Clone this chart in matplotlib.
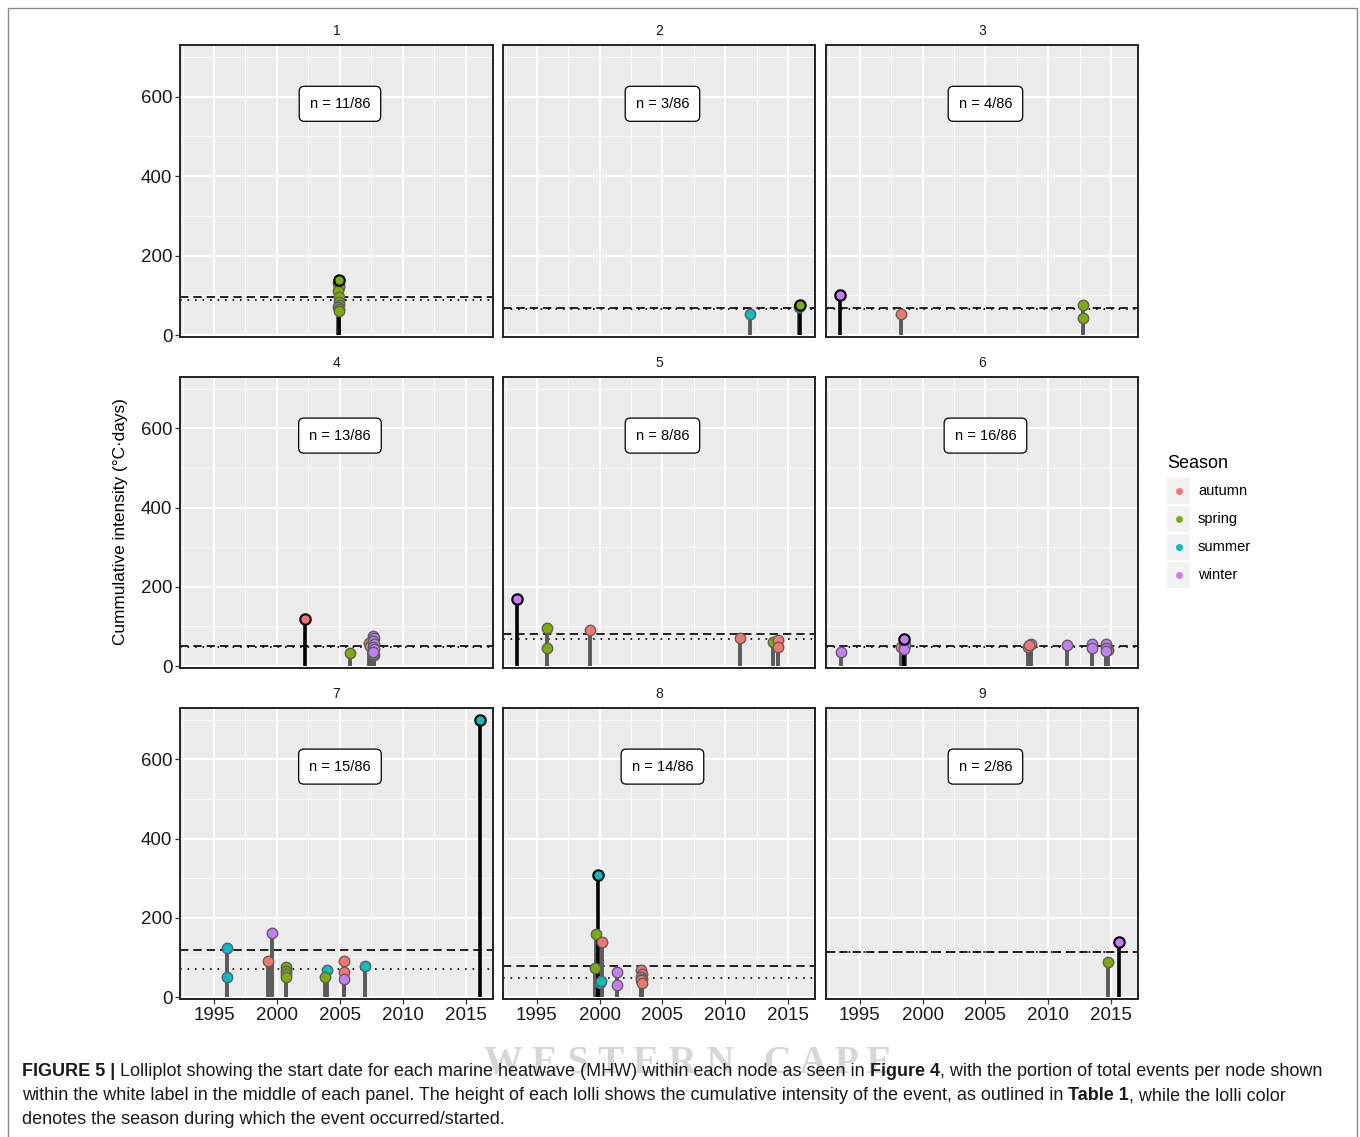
import matplotlib
matplotlib.use("Agg")
import matplotlib.pyplot as plt
from matplotlib.patches import Rectangle
from matplotlib.ticker import MultipleLocator

plt.rcParams['font.family'] = ['Liberation Sans', 'DejaVu Sans']

# ---- data (one list per node) ----
nodes = [1, 2, 3, 4, 5, 6, 7, 8, 9]
n_events = [11, 3, 4, 13, 8, 16, 15, 14, 2]
total_events = 86

years = [
    [2004.9, 2004.85, 2004.9, 2004.95, 2004.85, 2004.9, 2004.95, 2004.9, 2004.85, 2004.9, 2004.95],
    [2012.0, 2015.95, 2015.85],
    [1993.4, 1998.3, 2012.8, 2012.8],
    [2002.2, 2005.8, 2007.7, 2007.6, 2007.3, 2007.4, 2007.6, 2007.7, 2007.6, 2007.7, 2007.6, 2007.7, 2007.6],
    [1993.4, 1995.8, 1995.8, 1999.2, 2011.2, 2013.8, 2014.2, 2014.2],
    [1993.5, 1998.3, 1998.5, 1998.5, 1998.6, 1998.5, 2008.4, 2008.6, 2008.5,
     2011.5, 2013.5, 2013.5, 2014.8, 2014.6, 2014.6, 2014.6],
    [1996.0, 1996.0, 1999.6, 1999.3, 2000.7, 2000.7, 2000.7, 2000.7, 2004.0, 2003.8,
     2005.3, 2005.3, 2005.3, 2007.0, 2016.1],
    [1999.85, 1999.7, 2000.2, 1999.6, 2000.0, 2000.1, 2001.4, 2001.4,
     2003.3, 2003.4, 2003.3, 2003.4, 2003.3, 2003.4],
    [2014.8, 2015.65],
]

cum_int = [
    [138, 131, 125, 120, 112, 96, 84, 75, 70, 65, 60],
    [53, 76, 71],
    [100, 53, 76, 43],
    [118, 33, 28, 30, 58, 50, 75, 70, 62, 55, 48, 42, 36],
    [169, 95, 45, 92, 71, 61, 65, 49],
    [36, 48, 68, 60, 52, 44, 48, 55, 52, 53, 55, 45, 40, 55, 45, 38],
    [123, 50, 161, 92, 75, 66, 58, 51, 68, 50, 92, 62, 45, 78, 700],
    [309, 159, 139, 73, 35, 40, 62, 30, 68, 58, 50, 45, 42, 36],
    [88, 140],
]

season = [
    ['spring'] * 11,
    ['summer', 'spring', 'summer'],
    ['winter', 'autumn', 'spring', 'spring'],
    ['autumn', 'spring', 'spring', 'spring', 'autumn', 'autumn',
     'winter', 'winter', 'winter', 'winter', 'winter', 'winter', 'winter'],
    ['winter', 'spring', 'spring', 'autumn', 'autumn', 'spring', 'autumn', 'autumn'],
    ['winter', 'autumn', 'winter', 'winter', 'winter', 'winter', 'autumn', 'winter', 'autumn',
     'winter', 'winter', 'winter', 'spring', 'winter', 'winter', 'winter'],
    ['summer', 'summer', 'winter', 'autumn', 'spring', 'spring', 'spring', 'spring', 'summer', 'spring',
     'autumn', 'autumn', 'winter', 'summer', 'summer'],
    ['summer', 'spring', 'autumn', 'spring', 'summer', 'summer', 'winter', 'winter',
     'autumn', 'autumn', 'autumn', 'autumn', 'autumn', 'autumn'],
    ['spring', 'winter'],
]

# dashed = mean, dotted = median of each node
mean_line = [96, 68, 68, 50, 82, 51, 118, 79, 114]
median_line = [88, 66, 66, 48, 68, 49, 72, 47, 114]

season_names = ['autumn', 'spring', 'summer', 'winter']
season_cols = {'autumn': '#F8766D', 'spring': '#7CAE00', 'summer': '#00BFC4', 'winter': '#C77CFF'}
x_ticks = [1995, 2000, 2005, 2010, 2015]
y_ticks = [0, 200, 400, 600]

W, H = 1360, 1137
fig = plt.figure(figsize=(W / 100, H / 100), dpi=100)


def px(x, y):
    return x / W, 1 - y / H


col_left = [180, 503, 826]
col_w = [313, 312, 312]
row_top = [45, 377, 708]
row_h = [292, 291, 291]

for i, node in enumerate(nodes):
    r, c = divmod(i, 3)
    l, b = px(col_left[c], row_top[r] + row_h[r])
    ax = fig.add_axes([l, b, col_w[c] / W, row_h[r] / H])
    ax.set_facecolor('#EBEBEB')
    ax.set_xlim(1992.3, 2017.15)
    ax.set_ylim(-5, 730)
    ax.xaxis.set_major_locator(MultipleLocator(5))
    ax.xaxis.set_minor_locator(MultipleLocator(2.5))
    ax.yaxis.set_major_locator(MultipleLocator(200))
    ax.yaxis.set_minor_locator(MultipleLocator(100))
    ax.grid(which='major', color='white', lw=1.3)
    ax.grid(which='minor', color='white', lw=0.6)
    ax.set_axisbelow(True)
    for s in ax.spines.values():
        s.set_color('#222222')
        s.set_linewidth(1.4)
    ax.tick_params(which='minor', length=0)
    ax.tick_params(which='major', length=3.5, width=0.9, color='#333333',
                   labelsize=13.5, labelcolor='#1a1a1a', pad=2)
    ax.set_xticks(x_ticks)
    ax.set_yticks(y_ticks)
    if c != 0:
        ax.tick_params(axis='y', length=0, labelleft=False)
    if r != 2:
        ax.tick_params(axis='x', length=0, labelbottom=False)

    yrs, vals, seas = years[i], cum_int[i], season[i]
    top = vals.index(max(vals))
    order = [k for k in range(len(vals)) if k != top] + [top]
    # stems first, then the heads (as ggplot layers them)
    for k in order:
        hl = (k == top)
        ax.vlines(yrs[k], 0, vals[k], color='black' if hl else '#5a5a5a',
                  lw=2.6 if hl else 2.8, zorder=3 if not hl else 3.5)
    for k in order:
        hl = (k == top)
        ax.plot(yrs[k], vals[k], 'o', ms=7.5, mfc=season_cols[seas[k]],
                mec='black' if hl else '#5f5f5f', mew=1.5 if hl else 1.0,
                zorder=5 if hl else 4)

    ax.axhline(mean_line[i], color='black', ls=(0, (5, 3)), lw=1.2, zorder=2)
    ax.axhline(median_line[i], color='black', ls=(0, (1, 3.5)), lw=1.2, zorder=2)

    ax.text(2005, 582, f"n = {n_events[i]}/{total_events}", ha='center', va='center',
            fontsize=10.5, zorder=6,
            bbox=dict(boxstyle='round,pad=0.72,rounding_size=0.35', fc='white',
                      ec='black', lw=0.9))
    ax.set_title(str(node), fontsize=10, pad=7.5, color='#1a1a1a')

# y label
fig.text(*px(120, 522), 'Cummulative intensity (°C·days)', rotation=90,
         ha='center', va='center', fontsize=12.4)

# legend
fig.text(*px(1167, 464), 'Season', ha='left', va='center', fontsize=13)
key_y = [491, 519, 547, 575]
for sname, ky in zip(season_names, key_y):
    x0, y0 = px(1167, ky + 13)
    fig.patches.append(Rectangle((x0, y0), 23 / W, 26 / H, transform=fig.transFigure,
                                 fc='#F2F2F2', ec='none'))
    fig.lines.append(plt.Line2D([1179 / W], [1 - ky / H], marker='o', ms=5,
                                mfc=season_cols[sname], mec='none', ls='none',
                                transform=fig.transFigure))
    fig.text(*px(1198, ky), sname, ha='left', va='center', fontsize=10.5)

# outer frame
fig.patches.append(Rectangle((8 / W, -0.01), 1349 / W, 1 - 8 / H + 0.01,
                             transform=fig.transFigure, fc='none', ec='#8a8a8a', lw=1))

# faint scan watermark behind the caption
fig.text(*px(688, 1064), 'W E S T E R N   C A P E', ha='center', va='center',
         fontsize=28, color='#d6d6d6', family='Liberation Serif', weight='bold', zorder=0)

# caption with mixed weights
renderer = fig.canvas.get_renderer()
caption = [
    [('FIGURE 5 | ', 'bold'), ('Lolliplot showing the start date for each marine heatwave (MHW) within each node as seen in ', 'normal'),
     ('Figure 4', 'bold'), (', with the portion of total events per node shown', 'normal')],
    [('within the white label in the middle of each panel. The height of each lolli shows the cumulative intensity of the event, as outlined in ', 'normal'),
     ('Table 1', 'bold'), (', while the lolli color', 'normal')],
    [('denotes the season during which the event occurred/started.', 'normal')],
]
cap_y = [1071, 1096, 1120]
for line, cy in zip(caption, cap_y):
    x = 22
    for txt, wt in line:
        t = fig.text(*px(x, cy), txt, ha='left', va='center', fontsize=13,
                     weight=wt, color='#1a1a1a', zorder=2)
        x += t.get_window_extent(renderer).width

fig.savefig('out.png', dpi=100)
